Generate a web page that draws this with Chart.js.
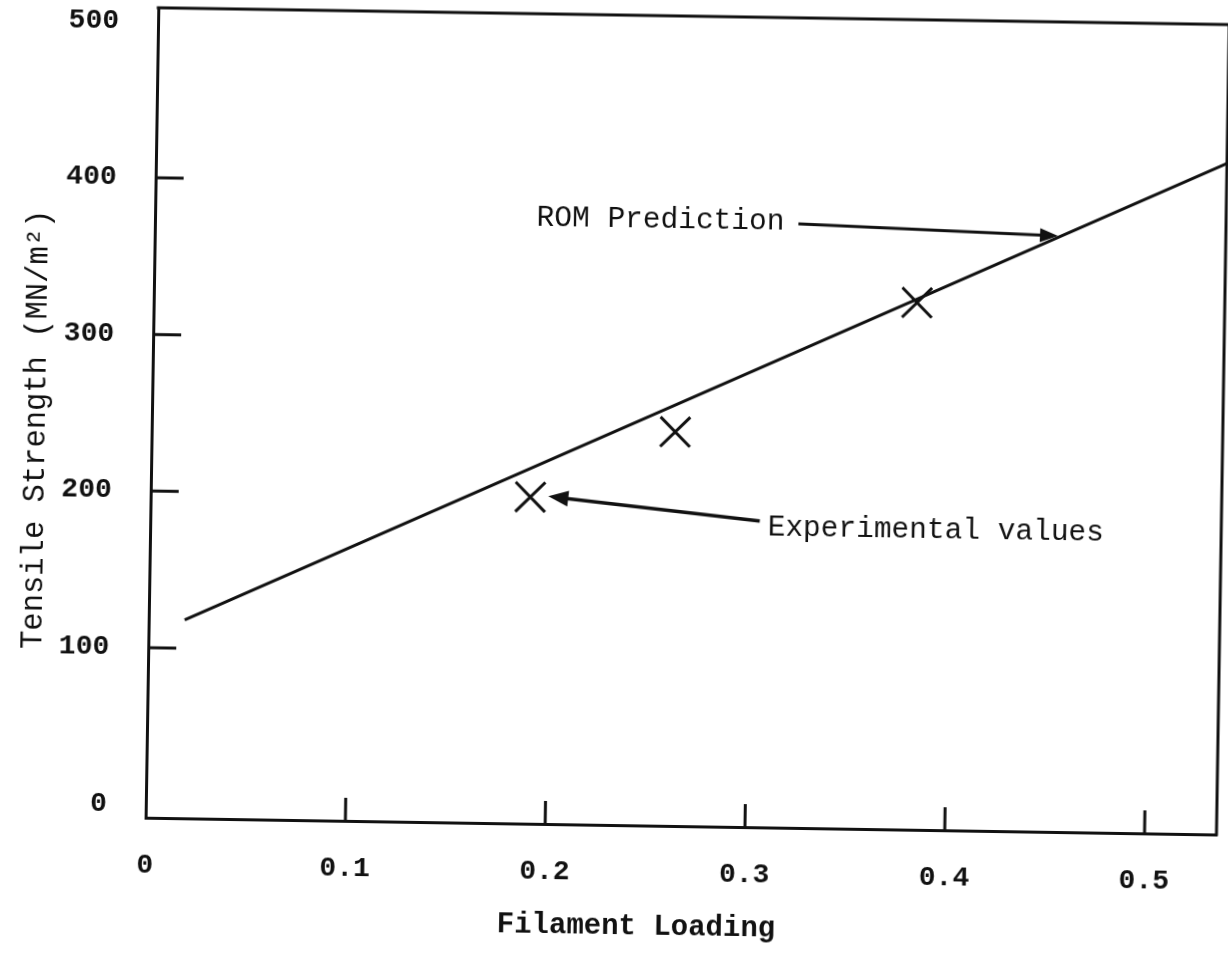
<!DOCTYPE html>
<html><head><meta charset="utf-8">
<script src="https://cdn.jsdelivr.net/npm/chart.js@4"></script>
<style>
html,body{margin:0;padding:0;background:#fff;overflow:hidden;}
#wrap{width:1228px;height:954px;}
canvas{display:block;transform:rotate(0.9deg);transform-origin:50% 50%;}
</style></head><body>
<div id="wrap"><canvas id="c" width="1228" height="954"></canvas></div>
<script>
// ---- data ----
const romX = [0.018, 0.536];
const romY = [118, 420];
const expX = [0.19, 0.262, 0.382];
const expY = [200, 243, 328];
const xTicks = [0, 0.1, 0.2, 0.3, 0.4, 0.5];
const xTickLabels = ['0', '0.1', '0.2', '0.3', '0.4', '0.5'];
const yTicks = [0, 100, 200, 300, 400, 500];
const yTickLabels = ['0', '100', '200', '300', '400', '500'];
const xTickMarks = [0.1, 0.2, 0.3, 0.4, 0.5];
const yTickMarks = [100, 200, 300, 400];
const xLabel = 'Filament Loading';
const yLabel = 'Tensile Strength (MN/m\u00B2)';
const romLabel = 'ROM Prediction';
const expLabel = 'Experimental values';
// annotation anchors (data units)
const romArrowFrom = [0.322, 377];
const romArrowTo = [0.452, 372];
const romTextAt = [0.315, 378];
const expArrowFrom = [0.305, 187];
const expArrowTo = [0.199, 200.6];
const expTextAt = [0.309, 183];

const ink = '#111';
const mono = "'Liberation Mono','DejaVu Sans Mono',monospace";

const deco = {
  id: 'deco',
  beforeDraw(chart) {
    const {ctx, width, height} = chart;
    ctx.save(); ctx.fillStyle = '#fff'; ctx.fillRect(0, 0, width, height); ctx.restore();
  },
  afterDraw(chart) {
    const {ctx, chartArea: a, scales: {x, y}} = chart;
    const P = (p) => [x.getPixelForValue(p[0]), y.getPixelForValue(p[1])];
    ctx.save();
    ctx.strokeStyle = ink; ctx.fillStyle = ink; ctx.lineWidth = 3;
    // top and right frame
    ctx.beginPath();
    ctx.moveTo(a.left - 1.5, a.top); ctx.lineTo(a.right, a.top); ctx.lineTo(a.right, a.bottom + 1.5);
    ctx.stroke();
    // inward tick marks
    ctx.beginPath();
    yTickMarks.forEach(v => { const py = y.getPixelForValue(v); ctx.moveTo(a.left, py); ctx.lineTo(a.left + 28, py); });
    xTickMarks.forEach(v => { const px = x.getPixelForValue(v); ctx.moveTo(px, a.bottom); ctx.lineTo(px, a.bottom - 23); });
    ctx.stroke();
    // arrows
    const arrow = (f, t, len, wid, lw) => {
      const [x1, y1] = P(f), [x2, y2] = P(t);
      const ang = Math.atan2(y2 - y1, x2 - x1);
      const bx = x2 - Math.cos(ang) * len, by = y2 - Math.sin(ang) * len;
      ctx.lineWidth = lw;
      ctx.beginPath(); ctx.moveTo(x1, y1); ctx.lineTo(bx + Math.cos(ang) * 2, by + Math.sin(ang) * 2); ctx.stroke();
      const nx = -Math.sin(ang) * wid / 2, ny = Math.cos(ang) * wid / 2;
      ctx.beginPath(); ctx.moveTo(x2, y2); ctx.lineTo(bx + nx, by + ny); ctx.lineTo(bx - nx, by - ny); ctx.closePath(); ctx.fill();
    };
    arrow(romArrowFrom, romArrowTo, 18, 14, 3);
    arrow(expArrowFrom, expArrowTo, 20, 16, 3.5);
    // labels
    ctx.font = '29.5px ' + mono;
    ctx.textBaseline = 'middle';
    let p = P(romTextAt); ctx.textAlign = 'right'; ctx.fillText(romLabel, p[0], p[1]);
    p = P(expTextAt); ctx.textAlign = 'left'; ctx.fillText(expLabel, p[0], p[1]);
    ctx.restore();
  }
};

new Chart(document.getElementById('c'), {
  type: 'scatter',
  data: {
    datasets: [
      { label: romLabel, data: romX.map((v, i) => ({x: v, y: romY[i]})), showLine: true,
        borderColor: ink, borderWidth: 3, pointRadius: 0, fill: false },
      { label: expLabel, data: expX.map((v, i) => ({x: v, y: expY[i]})), showLine: false,
        pointStyle: 'crossRot', pointRadius: 21, pointHoverRadius: 21, borderWidth: 3,
        borderColor: ink, backgroundColor: ink }
    ]
  },
  options: {
    responsive: false, animation: false,
    layout: { autoPadding: false, padding: { left: 0, right: 6, top: 15, bottom: 0 } },
    plugins: { legend: { display: false }, tooltip: { enabled: false } },
    scales: {
      x: {
        type: 'linear', min: 0, max: 0.536,
        afterBuildTicks(s) { s.ticks = xTicks.map(v => ({value: v})); },
        afterFit(s) { s.height = 129; s.paddingLeft = 0; s.paddingRight = 0; s.paddingTop = 0; s.paddingBottom = 0; },
        ticks: { autoSkip: false, maxRotation: 0, padding: 31, color: ink,
          font: { family: mono, size: 28, weight: 'bold' }, callback: (v, i) => xTickLabels[i] },
        grid: { display: false, drawTicks: false },
        border: { display: true, color: ink, width: 3 },
        title: { display: true, text: xLabel + '     ', color: ink,
          font: { family: mono, size: 29, weight: 'bold' }, padding: { top: 0, bottom: 10 } }
      },
      y: {
        type: 'linear', min: -8.6, max: 508.6,
        afterBuildTicks(s) { s.ticks = yTicks.map(v => ({value: v})); },
        afterFit(s) { s.width = 151; s.paddingTop = 0; s.paddingBottom = 0; s.paddingLeft = 0; s.paddingRight = 0; },
        ticks: { padding: 39, color: ink, font: { family: mono, size: 28, weight: 'bold' },
          callback: (v, i) => yTickLabels[i] },
        grid: { display: false, drawTicks: false },
        border: { display: true, color: ink, width: 3 },
        title: { display: true, text: yLabel + '  ', color: ink,
          font: { family: mono, size: 30.5 }, padding: { top: 18, bottom: 0 } }
      }
    }
  },
  plugins: [deco]
});
</script>
</body></html>
